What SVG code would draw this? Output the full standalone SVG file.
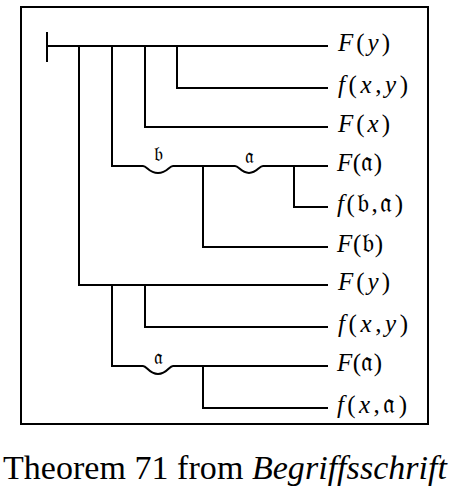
<svg xmlns="http://www.w3.org/2000/svg" width="453" height="487" viewBox="0 0 453 487">
<style>
.ln{stroke:#000;stroke-width:2;fill:none;stroke-linecap:square}
.lb{font-family:"Liberation Serif","DejaVu Serif",serif;font-size:25px;fill:#000}
.it{font-style:italic}
.fr{font-family:"DejaVu Serif","DejaVu Sans",serif;font-size:27px}
.fk{font-family:"DejaVu Serif","DejaVu Sans","Noto Sans",serif;font-size:20px;fill:#000;text-anchor:middle}
.cap{font-family:"Liberation Serif",serif;font-size:34px;fill:#000}
</style>
<rect x="21" y="7" width="407" height="417" fill="#fff" stroke="#000" stroke-width="2"/>
<g id="connectors">
<path class="ln" d="M47,33 V61"/>
<path class="ln" d="M47,46 H327"/>
<path class="ln" d="M177,46 V88 H327"/>
<path class="ln" d="M145,46 V127 H327"/>
<path class="ln" d="M112,46 V166 H143 C147,166 149,173 158,173 C167,173 169,166 173,166 H235 C239,166 241,173 249,173 C257,173 259,166 263,166 H327"/>
<path class="ln" d="M294,166 V207 H327"/>
<path class="ln" d="M203,166 V247 H327"/>
<path class="ln" d="M79,46 V285 H327"/>
<path class="ln" d="M145,285 V327 H327"/>
<path class="ln" d="M112,285 V366 H143 C147,366 149,374 158,374 C167,374 169,366 173,366 H327"/>
<path class="ln" d="M203,366 V408 H327"/>
<text class="fk" x="158" y="161">𝔟</text>
<text class="fk" x="249" y="163">𝔞</text>
<text class="fk" x="158" y="364">𝔞</text>
</g>
<g id="n1"><text class="lb" x="338" y="51" textLength="52" lengthAdjust="spacing"><tspan class="it">F</tspan>(<tspan class="it">y</tspan>)</text></g>
<g id="n2"><text class="lb" x="338" y="93" textLength="70" lengthAdjust="spacing"><tspan class="it">f</tspan>(<tspan class="it">x</tspan>,<tspan class="it">y</tspan>)</text></g>
<g id="n3"><text class="lb" x="338" y="132" textLength="52" lengthAdjust="spacing"><tspan class="it">F</tspan>(<tspan class="it">x</tspan>)</text></g>
<g id="n4"><text class="lb" x="337" y="171" textLength="45" lengthAdjust="spacing"><tspan class="it">F</tspan>(<tspan class="fr">𝔞</tspan>)</text></g>
<g id="n5"><text class="lb" x="337" y="212" textLength="66" lengthAdjust="spacing"><tspan class="it">f</tspan>(<tspan class="fr">𝔟</tspan>,<tspan class="fr">𝔞</tspan>)</text></g>
<g id="n6"><text class="lb" x="337" y="252" textLength="46" lengthAdjust="spacing"><tspan class="it">F</tspan>(<tspan class="fr">𝔟</tspan>)</text></g>
<g id="n7"><text class="lb" x="338" y="290" textLength="52" lengthAdjust="spacing"><tspan class="it">F</tspan>(<tspan class="it">y</tspan>)</text></g>
<g id="n8"><text class="lb" x="338" y="332" textLength="70" lengthAdjust="spacing"><tspan class="it">f</tspan>(<tspan class="it">x</tspan>,<tspan class="it">y</tspan>)</text></g>
<g id="n9"><text class="lb" x="337" y="371" textLength="45" lengthAdjust="spacing"><tspan class="it">F</tspan>(<tspan class="fr">𝔞</tspan>)</text></g>
<g id="n10"><text class="lb" x="337" y="413" textLength="70" lengthAdjust="spacing"><tspan class="it">f</tspan>(<tspan class="it">x</tspan>,<tspan class="fr">𝔞</tspan>)</text></g>
<g id="caption"><text class="cap" x="3" y="479" textLength="444" lengthAdjust="spacing">Theorem 71 from <tspan font-style="italic">Begriffsschrift</tspan></text></g>
</svg>
